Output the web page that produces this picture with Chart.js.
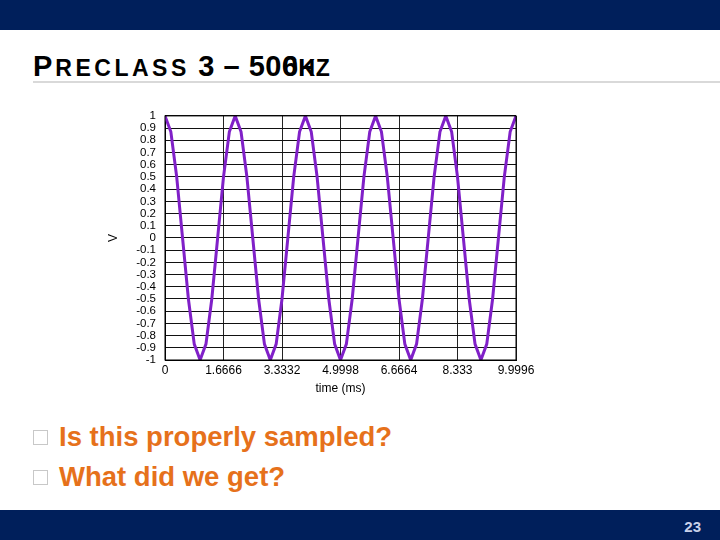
<!DOCTYPE html>
<html>
<head>
<meta charset="utf-8">
<script src="https://cdn.jsdelivr.net/npm/chart.js@4/dist/chart.umd.min.js"></script>
<style>
  html, body { margin: 0; padding: 0; }
  body { width: 720px; height: 540px; position: relative; overflow: hidden; background: #fff; font-family: "Liberation Sans", Arial, sans-serif; }
  .topbar { position: absolute; left: 0; top: 0; width: 720px; height: 30px; background: #001f5b; }
  .bottombar { position: absolute; left: 0; top: 510px; width: 720px; height: 30px; background: #001f5b; }
  .pagenum { position: absolute; right: 19px; top: 518px; color: #c9d1ea; font-size: 15px; font-weight: bold; }
  .title { position: absolute; left: 33px; top: 52px; font-size: 29px; font-weight: bold; letter-spacing: 0.5px; color: #000; white-space: nowrap; line-height: 1; }
  .title .first { letter-spacing: 3px; }
  .title .sc { font-size: 23px; letter-spacing: 3.5px; }
  .title .sc2 { font-size: 23px; letter-spacing: 0.5px; }
  .title .ov { display: inline-grid; }
  .title .ov span { grid-area: 1 / 1; }
  .rule { position: absolute; left: 33px; top: 81px; width: 687px; height: 2px; background: #d9d9d9; }
  .bullets { position: absolute; left: 33px; top: 421px; }
  .bullets div { height: 40px; font-size: 27.5px; font-weight: bold; color: #e6711b; white-space: nowrap; }
  .box { display: inline-block; width: 13px; height: 13px; border: 1px solid #c8c8c8; margin-right: 11px; vertical-align: 1px; }
  #wrap { position: absolute; left: 100px; top: 100px; width: 450px; height: 300px; }
</style>
</head>
<body>
<div class="topbar"></div>
<div class="title"><span class="first">P</span><span class="sc">RECLASS</span> 3 – 50<span class="ov"><span>0</span><span>6</span></span><span class="sc2 ov"><span>H</span><span>K</span></span><span class="sc2">Z</span></div>
<div class="rule"></div>
<div id="wrap"><canvas id="waveChart"></canvas></div>
<div class="bullets">
  <div><span class="box"></span>Is this properly sampled?</div>
  <div><span class="box"></span>What did we get?</div>
</div>
<div class="bottombar"></div>
<div class="pagenum">23</div>

<script>
// sample times (ms) and measured voltage
const sampleTimes = [
    0, 0.16666, 0.33332, 0.49998, 0.66664, 0.8333, 0.99996, 1.16662, 1.33328, 1.49994,
    1.6666, 1.83326, 1.99992, 2.16658, 2.33324, 2.4999, 2.66656, 2.83322, 2.99988, 3.16654,
    3.3332, 3.49986, 3.66652, 3.83318, 3.99984, 4.1665, 4.33316, 4.49982, 4.66648, 4.83314,
    4.9998, 5.16646, 5.33312, 5.49978, 5.66644, 5.8331, 5.99976, 6.16642, 6.33308, 6.49974,
    6.6664, 6.83306, 6.99972, 7.16638, 7.33304, 7.4997, 7.66636, 7.83302, 7.99968, 8.16634,
    8.333, 8.49966, 8.66632, 8.83298, 8.99964, 9.1663, 9.33296, 9.49962, 9.66628, 9.83294,
    9.9996
];
const voltage = [
    1, 0.87, 0.5, 0, -0.5, -0.87, -1, -0.87, -0.5, 0, 0.5, 0.87,
    1, 0.87, 0.5, 0, -0.5, -0.87, -1, -0.87, -0.5, 0, 0.5, 0.87,
    1, 0.87, 0.5, 0, -0.5, -0.87, -1, -0.87, -0.5, 0, 0.5, 0.87,
    1, 0.87, 0.5, 0, -0.5, -0.87, -1, -0.87, -0.5, 0, 0.5, 0.87,
    1, 0.87, 0.5, 0, -0.5, -0.87, -1, -0.87, -0.5, 0, 0.5, 0.87,
    1
];
const xTickValues = [0, 1.6666, 3.3332, 4.9998, 6.6664, 8.333, 9.9996];
const xTickLabels = ['0', '1.6666', '3.3332', '4.9998', '6.6664', '8.333', '9.9996'];

window.addEventListener('DOMContentLoaded', () => {
    const ctx = document.getElementById('waveChart');
    const points = sampleTimes.map((t, i) => ({ x: t, y: voltage[i] }));
    const tickFont = { family: '"Liberation Sans", Arial, sans-serif', size: 12 };

    new Chart(ctx.getContext('2d'), {
        type: 'line',
        data: {
            datasets: [{
                data: points,
                borderColor: '#8020c8',
                borderWidth: 3,
                pointRadius: 0,
                tension: 0,
                fill: false
            }]
        },
        options: {
            responsive: true,
            maintainAspectRatio: false,
            animation: false,
            layout: { padding: { top: 10, right: 34, left: 0, bottom: 0 } },
            plugins: { legend: { display: false }, tooltip: { enabled: false } },
            scales: {
                x: {
                    type: 'linear',
                    min: 0,
                    max: 9.9996,
                    afterBuildTicks: scale => { scale.ticks = xTickValues.map(v => ({ value: v })); },
                    afterFit: scale => { scale.height = 40; },
                    ticks: {
                        color: '#000',
                        font: tickFont,
                        padding: 3,
                        maxRotation: 0,
                        autoSkip: false,
                        callback: (v, i) => xTickLabels[i]
                    },
                    grid: { color: '#222', lineWidth: 1, drawTicks: false },
                    border: { color: '#000', width: 1 },
                    title: { display: true, text: 'time (ms)', color: '#000', font: tickFont, padding: { top: 2 } }
                },
                y: {
                    min: -1,
                    max: 1,
                    afterFit: scale => { scale.width = 65; },
                    ticks: {
                        stepSize: 0.1,
                        autoSkip: false,
                        color: '#000',
                        font: { family: '"Liberation Sans", Arial, sans-serif', size: 11.5 },
                        padding: 9,
                        callback: v => String(Number(v.toFixed(1)))
                    },
                    grid: { color: '#111', lineWidth: 1, drawTicks: false },
                    border: { color: '#000', width: 1 },
                    title: { display: true, text: 'V', color: '#000', font: tickFont, padding: { top: 6, bottom: 0 } }
                }
            }
        },
        plugins: [{
            id: 'frame',
            afterDraw(chart) {
                const a = chart.chartArea;
                const c = chart.ctx;
                c.save();
                c.strokeStyle = '#000';
                c.lineWidth = 1;
                c.strokeRect(a.left, a.top, a.right - a.left, a.bottom - a.top);
                c.restore();
            }
        }]
    });
});
</script>
</body>
</html>
